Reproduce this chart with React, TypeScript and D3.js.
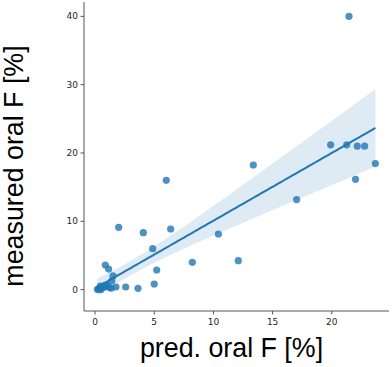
import React from 'react';
import * as d3 from 'd3';

// predicted vs measured oral F [%]
const predF = [
  21.45, 19.9, 21.26, 22.15, 22.77, 23.68, 22.0, 17.03, 13.37, 6.02,
  2.0, 4.08, 6.39, 10.42, 4.87, 0.87, 1.15, 8.22, 12.1, 5.21,
  1.52, 1.41, 5.0, 1.77, 2.59, 3.63, 1.37,
  0.2, 0.3, 0.4, 0.5, 0.6, 0.7, 0.8, 0.9, 1.0, 0.45, 1.2,
];
const measF = [
  40.0, 21.2, 21.2, 21.0, 21.0, 18.45, 16.15, 13.18, 18.24, 16.0,
  9.12, 8.34, 8.87, 8.14, 6.0, 3.6, 3.0, 4.0, 4.24, 2.87,
  2.0, 1.26, 0.82, 0.38, 0.38, 0.19, 0.2,
  0.05, 0.1, 0.2, 0.0, 0.4, 0.3, 0.6, 0.5, 0.7, 0.5, 0.3,
];
const xTicks = [0, 5, 10, 15, 20];
const yTicks = [0, 10, 20, 30, 40];

const W = 392;
const H = 367;
const margin = { top: 2, right: 3, bottom: 56, left: 84 };

const blue = '#1f77b4';

// OLS fit with a robust (sandwich) 95% band, close to seaborn's bootstrap band
function fit() {
  const n = predF.length;
  const mx = d3.mean(predF)!;
  const my = d3.mean(measF)!;
  let sxx = 0;
  let sxy = 0;
  predF.forEach((x, i) => {
    sxx += (x - mx) * (x - mx);
    sxy += (x - mx) * (measF[i] - my);
  });
  const b = sxy / sxx;
  const a = my - b * mx;
  let va = 0;
  let vb = 0;
  let cab = 0;
  predF.forEach((x, i) => {
    const e = measF[i] - (a + b * x);
    const h = 1 / n + ((x - mx) * (x - mx)) / sxx;
    const e2 = (e * e) / (1 - h);
    va += e2 / (n * n);
    vb += ((x - mx) * (x - mx) * e2) / (sxx * sxx);
    cab += ((x - mx) * e2) / (n * sxx);
  });
  const t = 2.03;
  const [x0, x1] = d3.extent(predF) as [number, number];
  const grid = d3.range(0, 101).map((k) => x0 + ((x1 - x0) * k) / 100);
  return grid.map((x) => {
    const yhat = a + b * x;
    const d = x - mx;
    const se = Math.sqrt(va + d * d * vb + 2 * d * cab);
    return { x, y: yhat, lo: yhat - t * se, hi: yhat + t * se };
  });
}

const App: React.FC = () => {
  const x = d3
    .scaleLinear()
    .domain([-0.93, 24.83])
    .range([margin.left, W - margin.right]);
  const y = d3
    .scaleLinear()
    .domain([-3.13, 42.1])
    .range([H - margin.bottom, margin.top]);

  const reg = fit();
  const line = d3
    .line<{ x: number; y: number }>()
    .x((d) => x(d.x))
    .y((d) => y(d.y));
  const band = d3
    .area<{ x: number; lo: number; hi: number }>()
    .x((d) => x(d.x))
    .y0((d) => y(d.lo))
    .y1((d) => y(d.hi));

  const bottom = H - margin.bottom;
  const tickFont = 'DejaVu Sans, sans-serif';

  return (
    <svg
      width={W}
      height={H}
      style={{ position: 'absolute', left: 0, top: 0, background: '#fff' }}
    >
      <path d={band(reg)!} fill={blue} fillOpacity={0.15} />
      {predF.map((px, i) => (
        <circle
          key={i}
          cx={x(px)}
          cy={y(measF[i])}
          r={3.6}
          fill={blue}
          fillOpacity={0.8}
        />
      ))}
      <path d={line(reg)!} fill="none" stroke={blue} strokeWidth={2} />

      {/* spines */}
      <line x1={margin.left} x2={margin.left} y1={margin.top} y2={bottom} stroke="#555" />
      <line x1={margin.left} x2={W - margin.right} y1={bottom} y2={bottom} stroke="#555" />

      {yTicks.map((t) => (
        <g key={t} transform={`translate(0,${y(t)})`}>
          <line x1={margin.left - 3.5} x2={margin.left} stroke="#555" />
          <text
            x={margin.left - 6}
            dy="0.34em"
            textAnchor="end"
            fontSize={9}
            fontFamily={tickFont}
            fill="#262626"
          >
            {t}
          </text>
        </g>
      ))}
      {xTicks.map((t) => (
        <g key={t} transform={`translate(${x(t)},${bottom})`}>
          <line y1={0} y2={3.5} stroke="#555" />
          <text
            y={14}
            textAnchor="middle"
            fontSize={9}
            fontFamily={tickFont}
            fill="#262626"
          >
            {t}
          </text>
        </g>
      ))}

      <text
        x={231.5}
        y={357}
        textAnchor="middle"
        fontSize={26.8}
        fontFamily="Liberation Sans, Arial, sans-serif"
        fill="#000"
      >
        pred. oral F [%]
      </text>
      <text
        transform="translate(22.5,166) rotate(-90)"
        textAnchor="middle"
        fontSize={26.8}
        fontFamily="Liberation Sans, Arial, sans-serif"
        fill="#000"
      >
        measured oral F [%]
      </text>
    </svg>
  );
};

export default App;
